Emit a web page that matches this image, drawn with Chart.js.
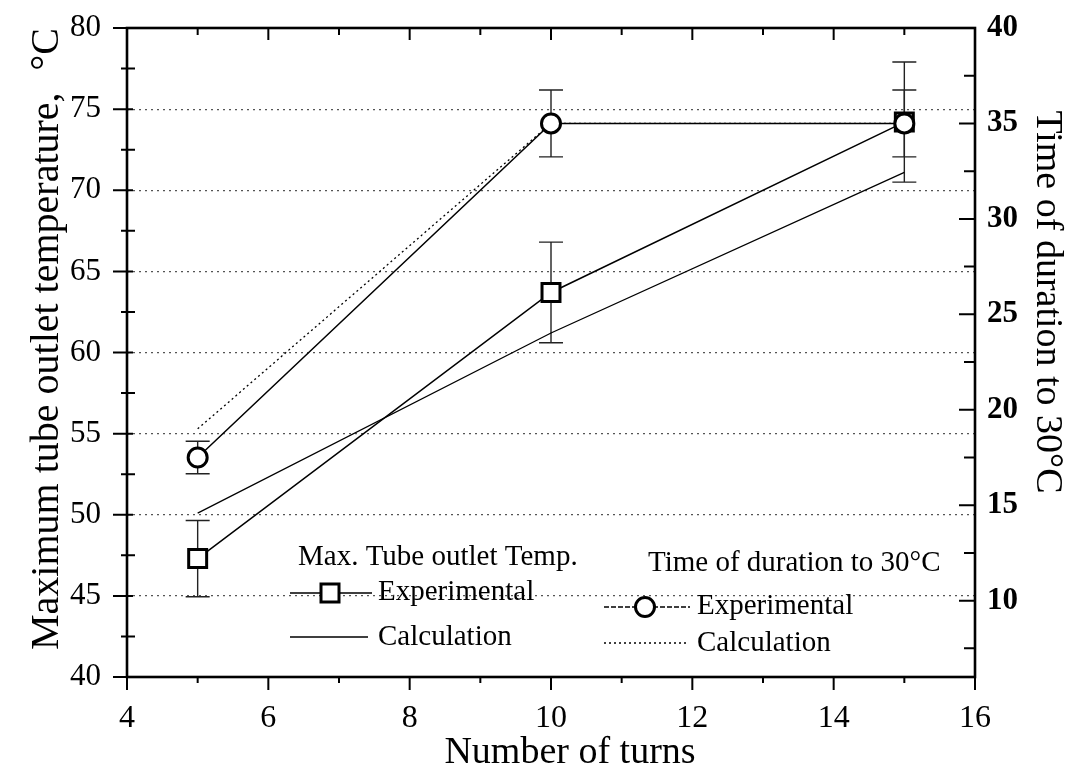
<!DOCTYPE html>
<html>
<head>
<meta charset="utf-8">
<script src="https://cdn.jsdelivr.net/npm/chart.js@4.4.1/dist/chart.umd.min.js"></script>
<style>
  html, body { margin: 0; padding: 0; background: #fff; }
  #wrap { width: 1087px; height: 777px; }
</style>
</head>
<body>
<div id="wrap"><canvas id="c" width="1087" height="777"></canvas></div>
<script>
// Number of coil turns tested
const turns = [5, 10, 15];

// Maximum tube outlet temperature (°C), left axis
const tempExp = [47.3, 63.7, 74.2];
const tempExpErr = [2.35, 3.1, 3.7];
const tempCalc = [50.1, 61.2, 71.1];

// Time of duration to 30 °C, right axis
const timeExp = [17.5, 35.0, 35.0];
const timeExpErr = [0.85, 1.75, 1.75];
const timeCalc = [19.0, 35.0, 35.0];

// Tick labels
const xTicks = [4, 6, 8, 10, 12, 14, 16];
const tempTicks = [40, 45, 50, 55, 60, 65, 70, 75, 80];
const timeTicks = [10, 15, 20, 25, 30, 35, 40];

// Texts
const xTitle = 'Number of turns';
const tempTitle = 'Maximum tube outlet temperature,';
const tempUnit = '°C';
const timeTitle = 'Time of duration to 30°C';
const legendTemp = ['Max. Tube outlet Temp.', 'Experimental', 'Calculation'];
const legendTime = ['Time of duration to 30°C', 'Experimental', 'Calculation'];

const SERIF = '"Liberation Serif", "Times New Roman", serif';

function pts(ys) { return turns.map((t, i) => ({ x: t, y: ys[i] })); }
function setTicks(list) { return s => { s.ticks = list.map(v => ({ value: v })); }; }
function fitVertical(w) { return s => { s.width = w; s.paddingTop = 0; s.paddingBottom = 0; }; }
function minorsOf(list, min, max) {
  const step = list[1] - list[0];
  const out = [];
  for (let v = list[0] - step / 2; v >= min; v -= step) out.push(v);
  for (let i = 0; i + 1 < list.length; i++) out.push((list[i] + list[i + 1]) / 2);
  for (let v = list[list.length - 1] + step / 2; v <= max; v += step) out.push(v);
  return out;
}

const decorPlugin = {
  id: 'decor',
  beforeDatasetsDraw(chart) {
    // error bars, drawn under the markers
    const ctx = chart.ctx, xs = chart.scales.x;
    ctx.save();
    ctx.strokeStyle = '#222';
    ctx.lineWidth = 1.4;
    const sets = [[tempExp, tempExpErr, chart.scales.y], [timeExp, timeExpErr, chart.scales.y2]];
    sets.forEach(([vals, errs, ys]) => {
      turns.forEach((t, i) => {
        const px = xs.getPixelForValue(t);
        const top = ys.getPixelForValue(vals[i] + errs[i]);
        const bot = ys.getPixelForValue(vals[i] - errs[i]);
        ctx.beginPath();
        ctx.moveTo(px, top); ctx.lineTo(px, bot);
        ctx.moveTo(px - 12, top); ctx.lineTo(px + 12, top);
        ctx.moveTo(px - 12, bot); ctx.lineTo(px + 12, bot);
        ctx.stroke();
      });
    });
    ctx.restore();
  },
  afterDraw(chart) {
    const ctx = chart.ctx, a = chart.chartArea;
    const xs = chart.scales.x, yl = chart.scales.y, yr = chart.scales.y2;
    ctx.save();
    ctx.strokeStyle = '#000';
    ctx.fillStyle = '#000';

    // frame
    ctx.lineWidth = 2.6;
    ctx.strokeRect(a.left, a.top, a.right - a.left, a.bottom - a.top);

    // tick marks
    ctx.lineWidth = 2;
    ctx.beginPath();
    xTicks.forEach(v => {
      const p = xs.getPixelForValue(v);
      ctx.moveTo(p, a.bottom); ctx.lineTo(p, a.bottom + 13);
      ctx.moveTo(p, a.top); ctx.lineTo(p, a.top + 12);
    });
    minorsOf(xTicks, xs.min, xs.max).forEach(v => {
      const p = xs.getPixelForValue(v);
      ctx.moveTo(p, a.bottom); ctx.lineTo(p, a.bottom + 6);
      ctx.moveTo(p, a.top); ctx.lineTo(p, a.top + 7);
    });
    tempTicks.forEach(v => {
      const p = yl.getPixelForValue(v);
      ctx.moveTo(a.left - 14, p); ctx.lineTo(a.left + 6, p);
    });
    minorsOf(tempTicks, yl.min, yl.max).forEach(v => {
      const p = yl.getPixelForValue(v);
      ctx.moveTo(a.left - 6, p); ctx.lineTo(a.left + 8, p);
    });
    timeTicks.forEach(v => {
      const p = yr.getPixelForValue(v);
      ctx.moveTo(a.right, p); ctx.lineTo(a.right - 16, p);
    });
    minorsOf(timeTicks, yr.min, yr.max).forEach(v => {
      const p = yr.getPixelForValue(v);
      ctx.moveTo(a.right, p); ctx.lineTo(a.right - 11, p);
    });
    ctx.stroke();

    // axis titles
    ctx.font = '38px ' + SERIF;
    ctx.textBaseline = 'middle';
    ctx.textAlign = 'center';
    ctx.fillText(xTitle, 570, 753);

    ctx.save();
    ctx.font = '40px ' + SERIF;
    ctx.translate(47, 650);
    ctx.rotate(-Math.PI / 2);
    ctx.textAlign = 'left';
    ctx.fillText(tempTitle, 0, 0);
    const uw = ctx.measureText(tempUnit).width;
    ctx.fillText(tempUnit, 622 - uw, 0);
    ctx.restore();

    ctx.save();
    ctx.translate(1047, 302);
    ctx.rotate(Math.PI / 2);
    ctx.textAlign = 'center';
    ctx.fillText(timeTitle, 0, 0);
    ctx.restore();

    // legend
    ctx.font = '29px ' + SERIF;
    ctx.textAlign = 'left';
    ctx.fillText(legendTemp[0], 298, 557);
    ctx.fillText(legendTemp[1], 378, 592);
    ctx.fillText(legendTemp[2], 378, 637);
    ctx.fillText(legendTime[0], 648, 563);
    ctx.fillText(legendTime[1], 697, 606);
    ctx.fillText(legendTime[2], 697, 643);

    ctx.lineWidth = 1.4;
    ctx.beginPath();
    ctx.moveTo(290, 593); ctx.lineTo(372, 593);
    ctx.moveTo(290, 637); ctx.lineTo(368, 637);
    ctx.stroke();
    ctx.setLineDash([5, 2]);
    ctx.beginPath();
    ctx.moveTo(604, 607); ctx.lineTo(690, 607);
    ctx.stroke();
    ctx.setLineDash([2, 3]);
    ctx.beginPath();
    ctx.moveTo(604, 643); ctx.lineTo(688, 643);
    ctx.stroke();
    ctx.setLineDash([]);

    ctx.lineWidth = 3;
    ctx.fillStyle = '#fff';
    ctx.fillRect(321, 584, 18, 18);
    ctx.strokeRect(321, 584, 18, 18);
    ctx.beginPath();
    ctx.arc(645, 607, 9.5, 0, Math.PI * 2);
    ctx.fill();
    ctx.stroke();

    ctx.restore();
  }
};

const tickFont = { family: SERIF, size: 31 };

new Chart(document.getElementById('c'), {
  type: 'scatter',
  data: {
    datasets: [
      {
        label: 'Time exp', data: pts(timeExp), yAxisID: 'y2', showLine: true, order: 0,
        borderColor: '#000', borderWidth: 1.5, pointStyle: 'circle', pointRadius: 9.5,
        pointBorderWidth: 3, pointBackgroundColor: '#fff', pointBorderColor: '#000'
      },
      {
        label: 'Temp exp', data: pts(tempExp), yAxisID: 'y', showLine: true, order: 1,
        borderColor: '#000', borderWidth: 1.5, pointStyle: 'rect', pointRadius: 12.7,
        pointBorderWidth: 3, pointBackgroundColor: '#fff', pointBorderColor: '#000'
      },
      {
        label: 'Temp calc', data: pts(tempCalc), yAxisID: 'y', showLine: true, order: 2,
        borderColor: '#000', borderWidth: 1.3, pointRadius: 0
      },
      {
        label: 'Time calc', data: pts(timeCalc), yAxisID: 'y2', showLine: true, order: 3,
        borderColor: '#000', borderWidth: 1.3, borderDash: [2, 3], pointRadius: 0
      }
    ]
  },
  options: {
    responsive: false,
    animation: false,
    devicePixelRatio: 1,
    layout: { padding: { top: 28, left: 0, right: 0, bottom: 0 } },
    plugins: { legend: { display: false }, tooltip: { enabled: false } },
    elements: { line: { tension: 0 } },
    scales: {
      x: {
        type: 'linear', position: 'bottom', min: 4, max: 16,
        afterBuildTicks: setTicks(xTicks),
        afterFit: s => { s.height = 100; s.paddingLeft = 0; s.paddingRight = 0; },
        grid: { display: false, drawTicks: false },
        border: { display: false },
        ticks: { font: { family: SERIF, size: 32 }, color: '#000', padding: 22, maxRotation: 0, autoSkip: false }
      },
      y: {
        type: 'linear', position: 'left', min: 40, max: 80,
        afterBuildTicks: setTicks(tempTicks),
        afterFit: fitVertical(127),
        grid: {
          drawTicks: false, lineWidth: 1.2,
          color: c => (c.tick && (c.tick.value === 40 || c.tick.value === 80)) ? 'rgba(0,0,0,0)' : '#555'
        },
        border: { display: false, dash: [2, 4] },
        ticks: { font: tickFont, color: '#000', padding: 26, autoSkip: false }
      },
      y2: {
        type: 'linear', position: 'right', min: 6, max: 40,
        afterBuildTicks: setTicks(timeTicks),
        afterFit: fitVertical(112),
        grid: { display: false, drawTicks: false },
        border: { display: false },
        ticks: { font: { family: SERIF, size: 31, weight: 'bold' }, color: '#000', padding: 12, autoSkip: false }
      }
    }
  },
  plugins: [decorPlugin]
});
</script>
</body>
</html>
